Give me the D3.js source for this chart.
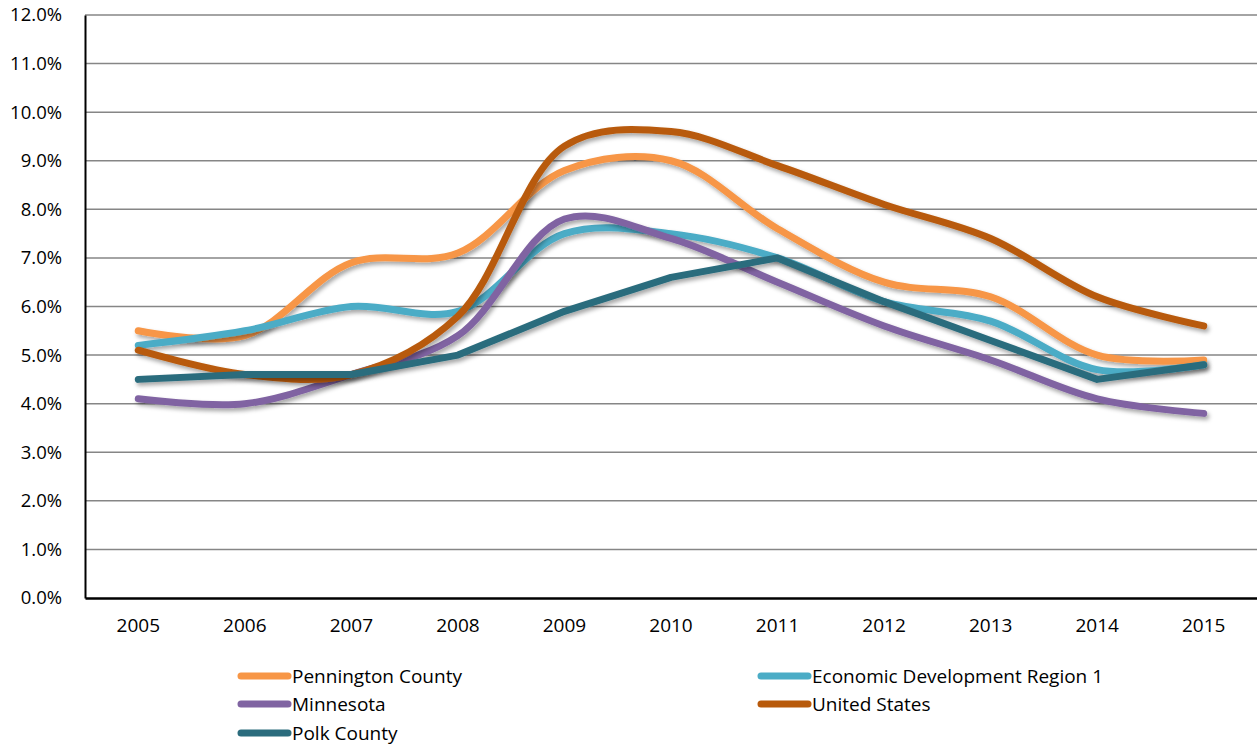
<!DOCTYPE html>
<html>
<head>
<meta charset="utf-8">
<script src="https://cdn.jsdelivr.net/npm/d3@7"></script>
<style>
    body { margin: 0; background: #fff; }
    svg { display: block; font-family: "Open Sans", "Liberation Sans", sans-serif; }
</style>
</head>
<body>
<svg width="1257" height="744"></svg>
<script>
// Years along the x axis
const years = ['2005', '2006', '2007', '2008', '2009', '2010', '2011', '2012', '2013', '2014', '2015'];

// Unemployment rates (%)
const pennington = [5.5, 5.4, 6.9, 7.1, 8.8, 9.0, 7.6, 6.5, 6.2, 5.0, 4.9];
const edr1 = [5.2, 5.5, 6.0, 5.9, 7.5, 7.5, 7.0, 6.1, 5.7, 4.7, 4.8];
const minnesota = [4.1, 4.0, 4.6, 5.4, 7.8, 7.4, 6.5, 5.6, 4.9, 4.1, 3.8];
const unitedStates = [5.1, 4.6, 4.6, 5.8, 9.3, 9.6, 8.9, 8.1, 7.4, 6.2, 5.6];
const polk = [4.5, 4.6, 4.6, 5.0, 5.9, 6.6, 7.0, 6.1, 5.3, 4.5, 4.8];

const yTicks = [0, 1, 2, 3, 4, 5, 6, 7, 8, 9, 10, 11, 12];

// Series in draw order (same as legend order)
const series = [
    { name: 'Pennington County', values: pennington, color: '#F79646', smooth: true },
    { name: 'Economic Development Region 1', values: edr1, color: '#4BACC6', smooth: true },
    { name: 'Minnesota', values: minnesota, color: '#8064A2', smooth: true },
    { name: 'United States', values: unitedStates, color: '#B85A0B', smooth: true },
    { name: 'Polk County', values: polk, color: '#2B6C7D', smooth: false }
];

const fontFamily = '"Open Sans", "Liberation Sans", sans-serif';

const svg = d3.select('svg');
const margin = { top: 15, right: 0, bottom: 146, left: 85 };
const innerWidth = 1257 - margin.left - margin.right;
const innerHeight = 744 - margin.top - margin.bottom;

const defs = svg.append('defs');
const shadow = defs.append('filter')
    .attr('id', 'shadow')
    .attr('x', '-5%').attr('y', '-20%')
    .attr('width', '110%').attr('height', '140%');
shadow.append('feDropShadow')
    .attr('dx', 2).attr('dy', 3)
    .attr('stdDeviation', 2)
    .attr('flood-color', '#000')
    .attr('flood-opacity', 0.35);

const g = svg.append('g')
    .attr('transform', `translate(${margin.left},${margin.top})`);

const xScale = d3.scaleBand()
    .domain(years)
    .range([0, innerWidth]);

const yScale = d3.scaleLinear()
    .domain([0, 12])
    .range([innerHeight, 0]);

// Gridlines
g.append('g')
    .selectAll('line')
    .data(yTicks.slice(1))
    .join('line')
    .attr('x1', 0)
    .attr('x2', innerWidth)
    .attr('y1', d => yScale(d))
    .attr('y2', d => yScale(d))
    .attr('stroke', '#868686')
    .attr('stroke-width', 1.5);

// Y axis
const yAxis = d3.axisLeft(yScale)
    .tickValues(yTicks)
    .tickSize(0)
    .tickPadding(23)
    .tickFormat(d => d.toFixed(1) + '%');
g.append('g')
    .call(yAxis)
    .attr('font-family', fontFamily)
    .attr('font-size', 18.5)
    .call(a => a.select('.domain').attr('stroke', '#000').attr('stroke-width', 2))
    .selectAll('text')
    .attr('fill', '#000');

// X axis
const xAxis = d3.axisBottom(xScale)
    .tickSize(0)
    .tickPadding(21);
g.append('g')
    .attr('transform', `translate(0,${innerHeight})`)
    .call(xAxis)
    .attr('font-family', fontFamily)
    .attr('font-size', 19)
    .call(a => a.select('.domain').attr('stroke', '#000').attr('stroke-width', 2.5))
    .selectAll('text')
    .attr('fill', '#000');

// Lines
const xPos = (d, i) => xScale(years[i]) + xScale.bandwidth() / 2;
const smoothLine = d3.line().x(xPos).y(d => yScale(d)).curve(d3.curveCatmullRom.alpha(0.5));
const straightLine = d3.line().x(xPos).y(d => yScale(d));

g.append('g')
    .selectAll('path')
    .data(series)
    .join('path')
    .attr('d', s => (s.smooth ? smoothLine : straightLine)(s.values))
    .attr('fill', 'none')
    .attr('stroke', s => s.color)
    .attr('stroke-width', 7)
    .attr('stroke-linecap', 'round')
    .attr('stroke-linejoin', 'round')
    .attr('filter', 'url(#shadow)');

// Legend
const legendPos = [
    { x: 238, y: 676 }, { x: 758, y: 676 },
    { x: 238, y: 704 }, { x: 758, y: 704 },
    { x: 238, y: 733 }
];
const legend = svg.append('g')
    .selectAll('g')
    .data(series)
    .join('g')
    .attr('transform', (s, i) => `translate(${legendPos[i].x},${legendPos[i].y})`);
legend.append('line')
    .attr('x1', 3).attr('x2', 50)
    .attr('stroke', s => s.color)
    .attr('stroke-width', 7)
    .attr('stroke-linecap', 'round');
legend.append('text')
    .attr('x', 54)
    .attr('dy', '0.35em')
    .attr('font-size', 19)
    .attr('fill', '#000')
    .text(s => s.name);
</script>
</body>
</html>
